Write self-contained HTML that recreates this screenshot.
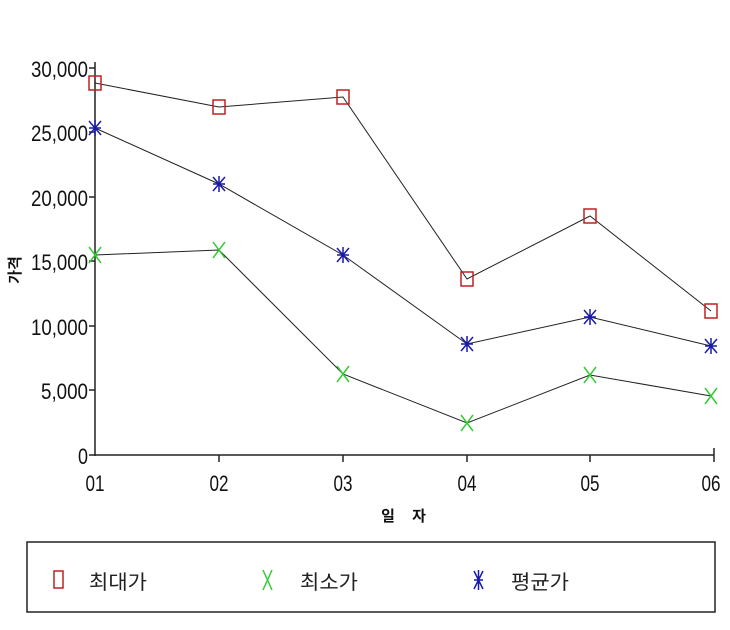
<!DOCTYPE html>
<html><head><meta charset="utf-8"><style>
body{margin:0;background:#fff;}
svg{display:block;font-family:"Liberation Sans","Noto Sans CJK KR",sans-serif;}
</style></head><body>
<svg width="730" height="630" viewBox="0 0 730 630">
<g stroke="#222" stroke-width="1.5" fill="none">
<line x1="95" y1="62" x2="95" y2="456"/>
<line x1="95" y1="455" x2="714" y2="455"/>
<line x1="89" y1="68" x2="95" y2="68"/><line x1="89" y1="132" x2="95" y2="132"/><line x1="89" y1="197" x2="95" y2="197"/><line x1="89" y1="261" x2="95" y2="261"/><line x1="89" y1="326" x2="95" y2="326"/><line x1="89" y1="390" x2="95" y2="390"/><line x1="89" y1="455" x2="95" y2="455"/>
<line x1="219" y1="455" x2="219" y2="462"/><line x1="343" y1="455" x2="343" y2="462"/><line x1="467" y1="455" x2="467" y2="462"/><line x1="590" y1="455" x2="590" y2="462"/><line x1="714" y1="448" x2="714" y2="462"/>
</g>
<g font-size="22" fill="#111" text-anchor="end" lengthAdjust="spacingAndGlyphs">
<text x="88" y="77" textLength="57" lengthAdjust="spacingAndGlyphs">30,000</text>
<text x="88" y="141" textLength="57" lengthAdjust="spacingAndGlyphs">25,000</text>
<text x="88" y="206" textLength="57" lengthAdjust="spacingAndGlyphs">20,000</text>
<text x="88" y="270" textLength="57" lengthAdjust="spacingAndGlyphs">15,000</text>
<text x="88" y="335" textLength="57" lengthAdjust="spacingAndGlyphs">10,000</text>
<text x="88" y="399" textLength="47" lengthAdjust="spacingAndGlyphs">5,000</text>
<text x="88" y="464" textLength="10" lengthAdjust="spacingAndGlyphs">0</text>
</g>
<g font-size="22" fill="#111" text-anchor="middle">
<text x="95" y="491" textLength="19" lengthAdjust="spacingAndGlyphs">01</text><text x="219" y="491" textLength="19" lengthAdjust="spacingAndGlyphs">02</text><text x="343" y="491" textLength="19" lengthAdjust="spacingAndGlyphs">03</text><text x="467" y="491" textLength="19" lengthAdjust="spacingAndGlyphs">04</text><text x="590" y="491" textLength="19" lengthAdjust="spacingAndGlyphs">05</text><text x="711" y="491" textLength="19" lengthAdjust="spacingAndGlyphs">06</text>
</g>
<g font-size="15" font-weight="bold" fill="#111" text-anchor="middle" font-family="'Noto Sans CJK KR',sans-serif">
<text x="388" y="521">일</text><text x="419" y="521">자</text>
</g>
<text transform="translate(20,270) rotate(-90)" font-size="15" font-weight="bold" text-anchor="middle" fill="#111" font-family="'Noto Sans CJK KR',sans-serif">가격</text>
<g fill="none" stroke="#222" stroke-width="1">
<polyline points="95,83 219,107 343,97 467,279 590,216 711,311"/>
<polyline points="95,255 219,250 343,374 467,423 590,375 711,396"/>
<polyline points="95,128 219,184 343,255 467,344 590,317 711,346"/>
</g>
<g fill="none" stroke="#c02020" stroke-width="1.5">
<rect x="89" y="76" width="12" height="14"/><rect x="213" y="100" width="12" height="14"/><rect x="337" y="90" width="12" height="14"/><rect x="461" y="272" width="12" height="14"/><rect x="584" y="209" width="12" height="14"/><rect x="705" y="304" width="12" height="14"/>
</g>
<g stroke="#33cc33" stroke-width="1.5">
<path d="M89,247l12,16M101,247l-12,16M213,242l12,16M225,242l-12,16M337,366l12,16M349,366l-12,16M461,415l12,16M473,415l-12,16M584,367l12,16M596,367l-12,16M705,388l12,16M717,388l-12,16"/>
</g>
<g stroke="#1a1aaa" stroke-width="1.5">
<path d="M89,121l12,14M101,121l-12,14M95,120v16M89,128h12 M213,177l12,14M225,177l-12,14M219,176v16M213,184h12 M337,248l12,14M349,248l-12,14M343,247v16M337,255h12 M461,337l12,14M473,337l-12,14M467,336v16M461,344h12 M584,310l12,14M596,310l-12,14M590,309v16M584,317h12 M705,339l12,14M717,339l-12,14M711,338v16M705,346h12"/>
</g>
<rect x="27" y="542" width="688" height="70" fill="none" stroke="#222" stroke-width="1.5"/>
<rect x="54" y="571" width="9" height="17" fill="none" stroke="#c02020" stroke-width="1.5"/>
<path d="M263,570l9,20M272,570l-9,20" stroke="#33cc33" stroke-width="1.5"/>
<path d="M474,571l9,18M483,571l-9,18M478.5,570v20M474,580h9" stroke="#1a1aaa" stroke-width="1.5"/>
<g font-size="20" fill="#222" font-family="'Noto Sans CJK KR',sans-serif">
<text x="89" y="589" textLength="58" lengthAdjust="spacingAndGlyphs">최대가</text><text x="300" y="589" textLength="58" lengthAdjust="spacingAndGlyphs">최소가</text><text x="511" y="589" textLength="58" lengthAdjust="spacingAndGlyphs">평균가</text>
</g>
</svg>
</body></html>
